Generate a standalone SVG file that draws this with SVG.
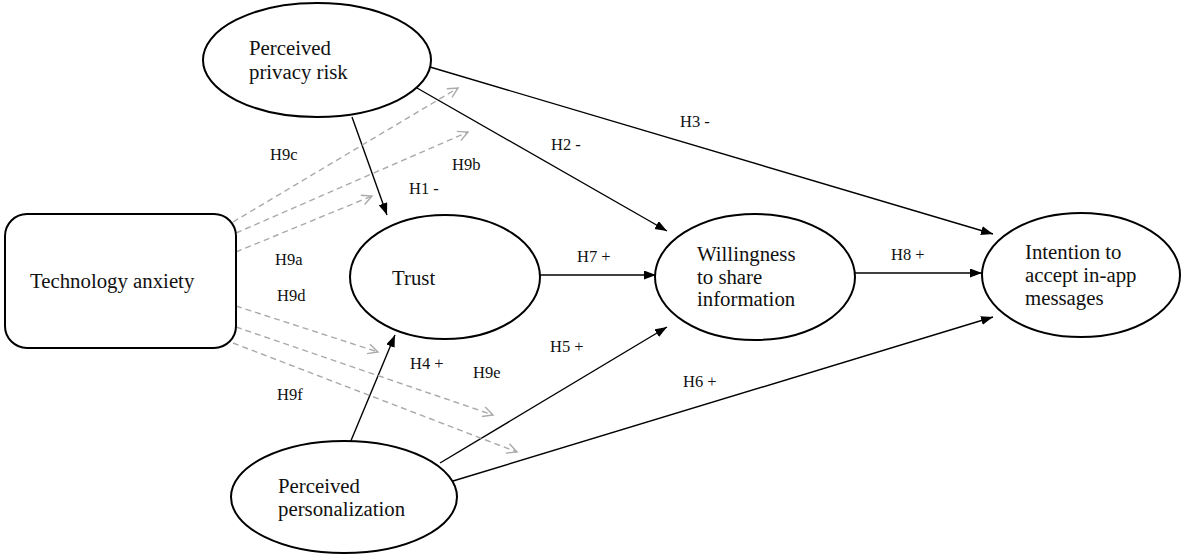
<svg xmlns="http://www.w3.org/2000/svg" width="1186" height="554" viewBox="0 0 1186 554">
<style>
.node{fill:#fff;stroke:#000;stroke-width:2}
.t{font-family:"Liberation Serif","Times New Roman",serif;font-size:20.8px;fill:#111}
.lb{font-family:"Liberation Serif","Times New Roman",serif;font-size:16.5px;fill:#111}
.solid{stroke:#000;stroke-width:1.4;fill:none}
.dash{stroke:#aaa;stroke-width:1.4;fill:none;stroke-dasharray:6 4}
</style>
<defs>
<marker id="ah" markerUnits="userSpaceOnUse" markerWidth="13" markerHeight="10" refX="12" refY="4.5" orient="auto">
<path d="M0,0 L12,4.5 L0,9 z" fill="#000"/>
</marker>
<marker id="ch" markerUnits="userSpaceOnUse" markerWidth="13" markerHeight="13" refX="11" refY="6" orient="auto">
<path d="M1,1 L11,6 L1,11" fill="none" stroke="#aaa" stroke-width="1.4"/>
</marker>
</defs>
<g id="connectors">
<line class="solid" x1="352" y1="117" x2="387" y2="215" marker-end="url(#ah)"/>
<line class="solid" x1="417" y1="88" x2="667" y2="231" marker-end="url(#ah)"/>
<line class="solid" x1="430" y1="67" x2="993" y2="234" marker-end="url(#ah)"/>
<line class="solid" x1="540" y1="275" x2="656" y2="275" marker-end="url(#ah)"/>
<line class="solid" x1="855" y1="273" x2="982" y2="273" marker-end="url(#ah)"/>
<line class="solid" x1="350" y1="443" x2="395" y2="335" marker-end="url(#ah)"/>
<line class="solid" x1="440" y1="463" x2="667" y2="327" marker-end="url(#ah)"/>
<line class="solid" x1="453" y1="481" x2="993" y2="317" marker-end="url(#ah)"/>
<line class="dash" x1="233" y1="222" x2="458" y2="88" marker-end="url(#ch)"/>
<line class="dash" x1="236" y1="233" x2="468" y2="132" marker-end="url(#ch)"/>
<line class="dash" x1="236" y1="252" x2="372" y2="196" marker-end="url(#ch)"/>
<line class="dash" x1="236" y1="306" x2="378" y2="352" marker-end="url(#ch)"/>
<line class="dash" x1="236" y1="327" x2="493" y2="415" marker-end="url(#ch)"/>
<line class="dash" x1="233" y1="343" x2="517" y2="452" marker-end="url(#ch)"/>
<text class="lb" x="270" y="160">H9c</text>
<text class="lb" x="452" y="170">H9b</text>
<text class="lb" x="409" y="194">H1 -</text>
<text class="lb" x="551" y="150">H2 -</text>
<text class="lb" x="680" y="127">H3 -</text>
<text class="lb" x="275" y="265">H9a</text>
<text class="lb" x="277" y="301">H9d</text>
<text class="lb" x="410" y="369">H4 +</text>
<text class="lb" x="473" y="378">H9e</text>
<text class="lb" x="277" y="400">H9f</text>
<text class="lb" x="577" y="262">H7 +</text>
<text class="lb" x="550" y="352">H5 +</text>
<text class="lb" x="683" y="387">H6 +</text>
<text class="lb" x="891" y="260">H8 +</text>
</g>
<g id="privacy">
<ellipse class="node" cx="317" cy="60" rx="114" ry="57"/>
<text class="t" x="249" y="55">Perceived</text>
<text class="t" x="249" y="79">privacy risk</text>
</g>
<g id="anxiety">
<rect class="node" x="5" y="214" width="231" height="134" rx="22" ry="22"/>
<text class="t" x="30" y="288">Technology anxiety</text>
</g>
<g id="trust">
<ellipse class="node" cx="445" cy="277" rx="95" ry="62"/>
<text class="t" x="392" y="285">Trust</text>
</g>
<g id="willingness">
<ellipse class="node" cx="755" cy="277" rx="100" ry="63"/>
<text class="t" x="697" y="261">Willingness</text>
<text class="t" x="697" y="284">to share</text>
<text class="t" x="697" y="306">information</text>
</g>
<g id="intention">
<ellipse class="node" cx="1081" cy="275" rx="99" ry="62"/>
<text class="t" x="1025" y="259">Intention to</text>
<text class="t" x="1025" y="282">accept in-app</text>
<text class="t" x="1025" y="305">messages</text>
</g>
<g id="personalization">
<ellipse class="node" cx="344" cy="497" rx="113" ry="56"/>
<text class="t" x="278" y="493">Perceived</text>
<text class="t" x="278" y="516">personalization</text>
</g>
</svg>
